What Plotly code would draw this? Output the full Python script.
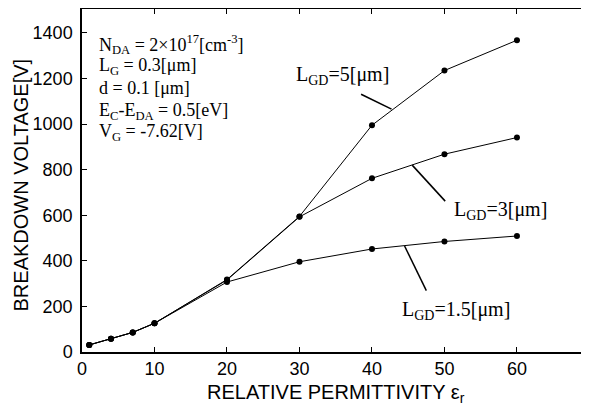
import plotly.graph_objects as go

eps = [1, 4, 7, 10, 20, 30, 40, 50, 60]
v_lgd15 = [31, 58, 86, 126, 307, 396, 452, 485, 509]
v_lgd3 = [31, 58, 86, 126, 316, 593, 762, 868, 941]
v_lgd5 = [31, 58, 86, 126, 318, 595, 995, 1235, 1368]

x_ticks = [0, 10, 20, 30, 40, 50, 60]
y_ticks = [0, 200, 400, 600, 800, 1000, 1200, 1400]

info_lines = [
    "N<sub>DA</sub> = 2×10<sup>17</sup>[cm<sup>-3</sup>]",
    "L<sub>G</sub> = 0.3[μm]",
    "d = 0.1 [μm]",
    "E<sub>C</sub>-E<sub>DA</sub> = 0.5[eV]",
    "V<sub>G</sub> = -7.62[V]",
]
info_y = [1350, 1254, 1158, 1057, 962]

labels = ["L<sub>GD</sub>=5[μm]", "L<sub>GD</sub>=3[μm]", "L<sub>GD</sub>=1.5[μm]"]
label_pos = [(35.9, 1215), (57.7, 623), (51.6, 184)]
leaders = [((38.5, 1131), (42.7, 1066)), ((45.55, 820), (50.1, 662)), ((44.5, 465), (47.5, 269))]

fig = go.Figure()
for vals in [v_lgd15, v_lgd3, v_lgd5]:
    fig.add_trace(go.Scatter(x=eps, y=vals, mode="lines+markers",
                             line=dict(color="black", width=1),
                             marker=dict(color="black", size=6),
                             showlegend=False))

serif = "Liberation Serif"
for t, y in zip(info_lines, info_y):
    fig.add_annotation(x=2.1, y=y, text=t, showarrow=False, xanchor="left",
                       yanchor="middle", font=dict(family=serif, size=18, color="black"))
for t, (x, y) in zip(labels, label_pos):
    fig.add_annotation(x=x, y=y, text=t, showarrow=False, xanchor="center",
                       yanchor="middle", font=dict(family=serif, size=20, color="black"))
for (a, b) in leaders:
    fig.add_shape(type="line", x0=a[0], y0=a[1], x1=b[0], y1=b[1],
                  line=dict(color="black", width=1.5))

# axis titles as annotations for precise placement
fig.add_annotation(xref="paper", yref="paper", x=-0.1215, y=0.487,
                   text="BREAKDOWN VOLTAGE[V]", textangle=-90, showarrow=False,
                   xanchor="center", yanchor="middle",
                   font=dict(family="Liberation Sans", size=20, color="black"))
fig.add_annotation(xref="paper", yref="paper", x=0.502, y=-0.12,
                   text="RELATIVE PERMITTIVITY ε<sub>r</sub>", showarrow=False,
                   xanchor="center", yanchor="middle",
                   font=dict(family="Liberation Sans", size=20, color="black"))

axis_common = dict(showgrid=False, zeroline=False, showline=True, linecolor="black",
                   linewidth=1.5, mirror="ticks", ticks="inside", ticklen=5,
                   tickcolor="black", automargin=False,
                   tickfont=dict(family="Liberation Sans", size=18, color="black"))

fig.update_xaxes(range=[0, 69.8], tickvals=x_ticks, ticklabelstandoff=0, **axis_common)
fig.update_yaxes(range=[0, 1505], tickvals=y_ticks, ticklabelstandoff=4, **axis_common)

# page body has an 8px default margin, so the figure is sized/offset accordingly
fig.update_layout(width=581, height=395, margin=dict(l=74, r=1, t=1, b=51),
                  plot_bgcolor="white", paper_bgcolor="white")

fig.write_html("out.html")
